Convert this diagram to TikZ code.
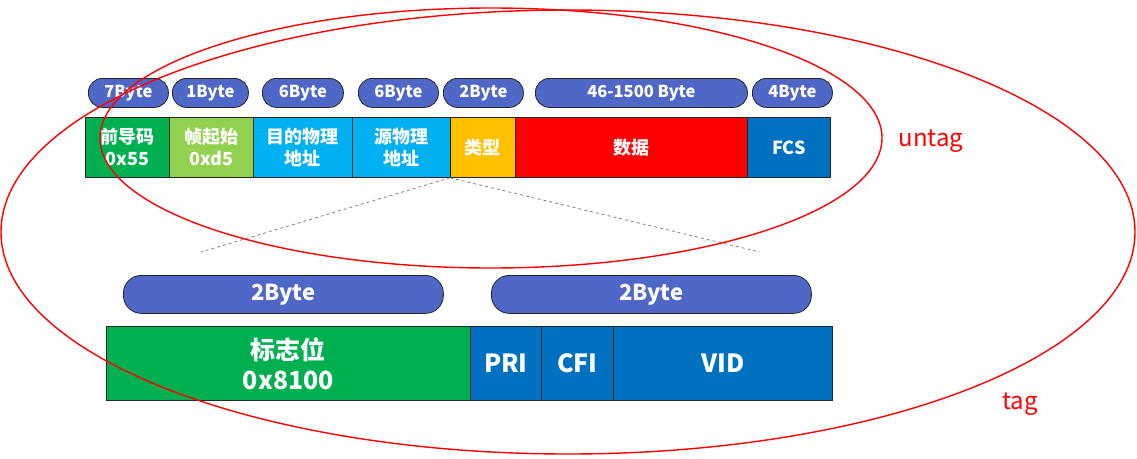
\documentclass[tikz,border=0pt]{standalone}
\usepackage{fontspec}
\setmainfont{Noto Sans CJK SC}
\definecolor{pillblue}{RGB}{79,104,199}
\definecolor{cgreen}{RGB}{0,176,80}
\definecolor{lgreen}{RGB}{146,208,80}
\definecolor{ccyan}{RGB}{0,176,240}
\definecolor{corange}{RGB}{255,192,0}
\definecolor{cred}{RGB}{255,0,0}
\definecolor{cblue}{RGB}{0,112,192}
\begin{document}
\begin{tikzpicture}[x=1pt,y=-1pt,
  cell/.style={draw=black!85, line width=0.8pt, text=white, align=center, inner sep=0pt, anchor=north west,
    font=\bfseries\fontsize{18}{22}\selectfont, minimum height=60pt},
  bcell/.style={draw=black!85, line width=0.8pt, text=white, align=center, inner sep=0pt, anchor=north west,
    font=\bfseries\fontsize{25}{30}\selectfont, minimum height=74pt},
  pill/.style={draw=black!85, line width=0.8pt, fill=pillblue, rounded corners=14pt, text=white, inner sep=0pt,
    anchor=north west, minimum height=29pt, font=\bfseries\fontsize{16.5}{18}\selectfont},
  bpill/.style={draw=black!85, line width=0.8pt, fill=pillblue, rounded corners=18pt, text=white, inner sep=0pt,
    anchor=north west, minimum height=38pt, minimum width=320pt, font=\bfseries\fontsize{22}{26}\selectfont},
  ring/.style={draw=red, line width=1.4pt},
  guide/.style={draw=black!50, dashed, line width=0.8pt},
  note/.style={text=red, font=\fontsize{24}{28}\selectfont, inner sep=0pt}
]
\useasboundingbox (0,0) rectangle (1137,458);
% top pills
\node[pill, minimum width=80pt] (b1) at (88,78) {7Byte};
\node[pill, minimum width=76pt] (b2) at (172,78) {1Byte};
\node[pill, minimum width=81pt] (b3) at (262,78) {6Byte};
\node[pill, minimum width=80pt] (b4) at (358,78) {6Byte};
\node[pill, minimum width=80pt] (b5) at (443,78) {2Byte};
\node[pill, minimum width=212pt] (b6) at (535,78) {46-1500 Byte};
\node[pill, minimum width=80pt] (b7) at (752,78) {4Byte};
% top frame
\node[cell, fill=cgreen, minimum width=84pt] (p1) at (85,117) {前导码\\0x55};
\node[cell, fill=lgreen, minimum width=84pt] (p2) at (169,117) {帧起始\\0xd5};
\node[cell, fill=ccyan, minimum width=99pt] (p3) at (253,117) {目的物理\\地址};
\node[cell, fill=ccyan, minimum width=98pt] (p4) at (352,117) {源物理\\地址};
\node[cell, fill=corange, minimum width=65pt] (p5) at (450,117) {类型};
\node[cell, fill=cred, minimum width=232pt] (p6) at (515,117) {数据};
\node[cell, fill=cblue, minimum width=83pt] (p7) at (747,117) {FCS};
% guide lines
\coordinate (gl) at (201,252);
\coordinate (gr) at (760,252);
\draw[guide] (p5.south west) -- (gl);
\draw[guide] (p5.south west) -- (gr);
% bottom pills
\node[bpill] (c1) at (123,275) {2Byte};
\node[bpill] (c2) at (491,275) {2Byte};
% bottom frame
\node[bcell, fill=cgreen, minimum width=364pt] (t1) at (106,326) {标志位\\0x8100};
\node[bcell, fill=cblue, minimum width=71pt] (t2) at (470,326) {PRI};
\node[bcell, fill=cblue, minimum width=72pt] (t3) at (541,326) {CFI};
\node[bcell, fill=cblue, minimum width=219pt] (t4) at (613,326) {VID};
% ellipses
\draw[ring] (491,138) ellipse [x radius=391pt, y radius=130pt];
\draw[ring] (568,232) ellipse [x radius=567pt, y radius=222pt];
\node[note] (u) at (931,141) {untag};
\node[note] (tg) at (1020,404) {tag};
\end{tikzpicture}
\end{document}
